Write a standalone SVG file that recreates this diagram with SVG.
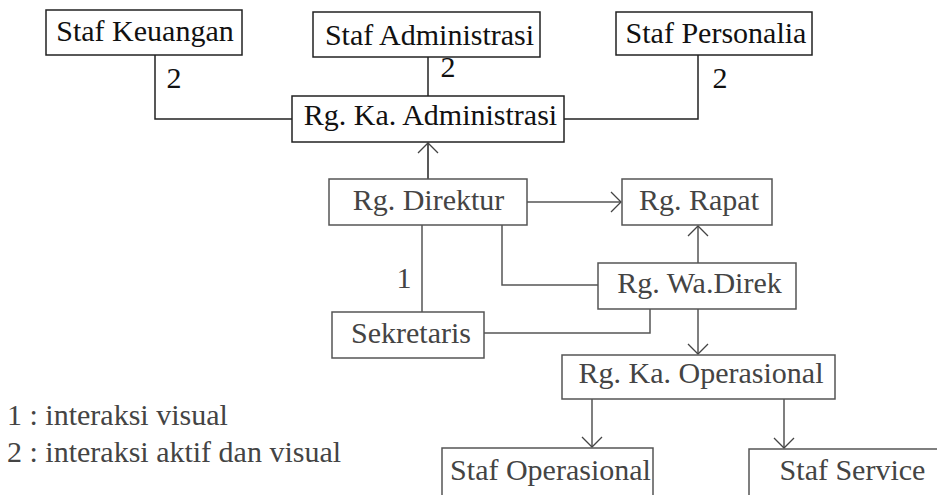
<svg xmlns="http://www.w3.org/2000/svg" width="937" height="495" viewBox="0 0 937 495">
<style>
  text { font-family: 'Liberation Serif', 'Times New Roman', 'DejaVu Serif', serif; font-size: 30px; text-anchor: middle; }
  .top rect { fill: #fff; stroke: #222; stroke-width: 1.5; }
  .top text { fill: #111; }
  .low rect { fill: #fff; stroke: #555; stroke-width: 1.5; }
  .low text { fill: #444; }
  .c1 { fill: none; stroke: #222; stroke-width: 1.5; }
  .c2 { fill: none; stroke: #555; stroke-width: 1.5; }
  .lbl { fill: #111; }
  .leg { fill: #444; text-anchor: start; }
</style>
<defs>
  <marker id="arr" markerWidth="22" markerHeight="22" refX="11" refY="11" orient="auto" markerUnits="userSpaceOnUse">
    <path d="M1,1 L11,11 L1,21" fill="none" stroke="#444" stroke-width="1.3"/>
  </marker>
</defs>
<rect width="937" height="495" fill="#fff"/>
<g id="connectors">
  <polyline class="c1" points="155,55 155,119 292,119"/>
  <line class="c1" x1="428" y1="57" x2="428" y2="96"/>
  <polyline class="c1" points="698,55 698,119 564,119"/>
  <line class="c1" x1="428" y1="179" x2="428" y2="143" marker-end="url(#arr)"/>
  <line class="c2" x1="527" y1="202" x2="621" y2="202" marker-end="url(#arr)"/>
  <line class="c2" x1="698" y1="263" x2="698" y2="226" marker-end="url(#arr)"/>
  <polyline class="c2" points="502,225 502,285 598,285"/>
  <line class="c2" x1="422" y1="225" x2="422" y2="312"/>
  <polyline class="c2" points="484,333 650,333 650,309"/>
  <line class="c2" x1="698" y1="309" x2="698" y2="354" marker-end="url(#arr)"/>
  <line class="c2" x1="592" y1="399" x2="592" y2="447" marker-end="url(#arr)"/>
  <line class="c2" x1="784" y1="399" x2="784" y2="448" marker-end="url(#arr)"/>
  <text class="lbl" x="174" y="88">2</text>
  <text class="lbl" x="448" y="77">2</text>
  <text class="lbl" x="720" y="88">2</text>
  <text class="lbl" x="404" y="288" style="fill:#444">1</text>
</g>
<g id="staf-keuangan" class="top"><rect x="46" y="10" width="196" height="45"/><text x="145" y="41">Staf Keuangan</text></g>
<g id="staf-administrasi" class="top"><rect x="313" y="12" width="227" height="45"/><text x="429.5" y="45">Staf Administrasi</text></g>
<g id="staf-personalia" class="top"><rect x="616" y="12" width="196" height="43"/><text x="716" y="43">Staf Personalia</text></g>
<g id="rg-ka-administrasi" class="top"><rect x="292" y="96" width="272" height="46"/><text x="430.5" y="125">Rg. Ka. Administrasi</text></g>
<g id="rg-direktur" class="low"><rect x="329" y="179" width="198" height="46"/><text x="428.5" y="210">Rg. Direktur</text></g>
<g id="rg-rapat" class="low"><rect x="622" y="179" width="150" height="46"/><text x="699" y="210">Rg. Rapat</text></g>
<g id="rg-wa-direk" class="low"><rect x="598" y="263" width="198" height="46"/><text x="699.5" y="293">Rg. Wa.Direk</text></g>
<g id="sekretaris" class="low"><rect x="332" y="312" width="152" height="46"/><text x="411" y="343">Sekretaris</text></g>
<g id="rg-ka-operasional" class="low"><rect x="562" y="355" width="273" height="44"/><text x="701" y="383">Rg. Ka. Operasional</text></g>
<g id="staf-operasional" class="low"><rect x="442" y="448" width="211" height="60"/><text x="550.5" y="480">Staf Operasional</text></g>
<g id="staf-service" class="low"><rect x="749" y="449" width="200" height="60"/><text x="852.5" y="480">Staf Service</text></g>
<g id="legend">
  <text class="leg" x="7" y="425">1 : interaksi visual</text>
  <text class="leg" x="7" y="462">2 : interaksi aktif dan visual</text>
</g>
</svg>
